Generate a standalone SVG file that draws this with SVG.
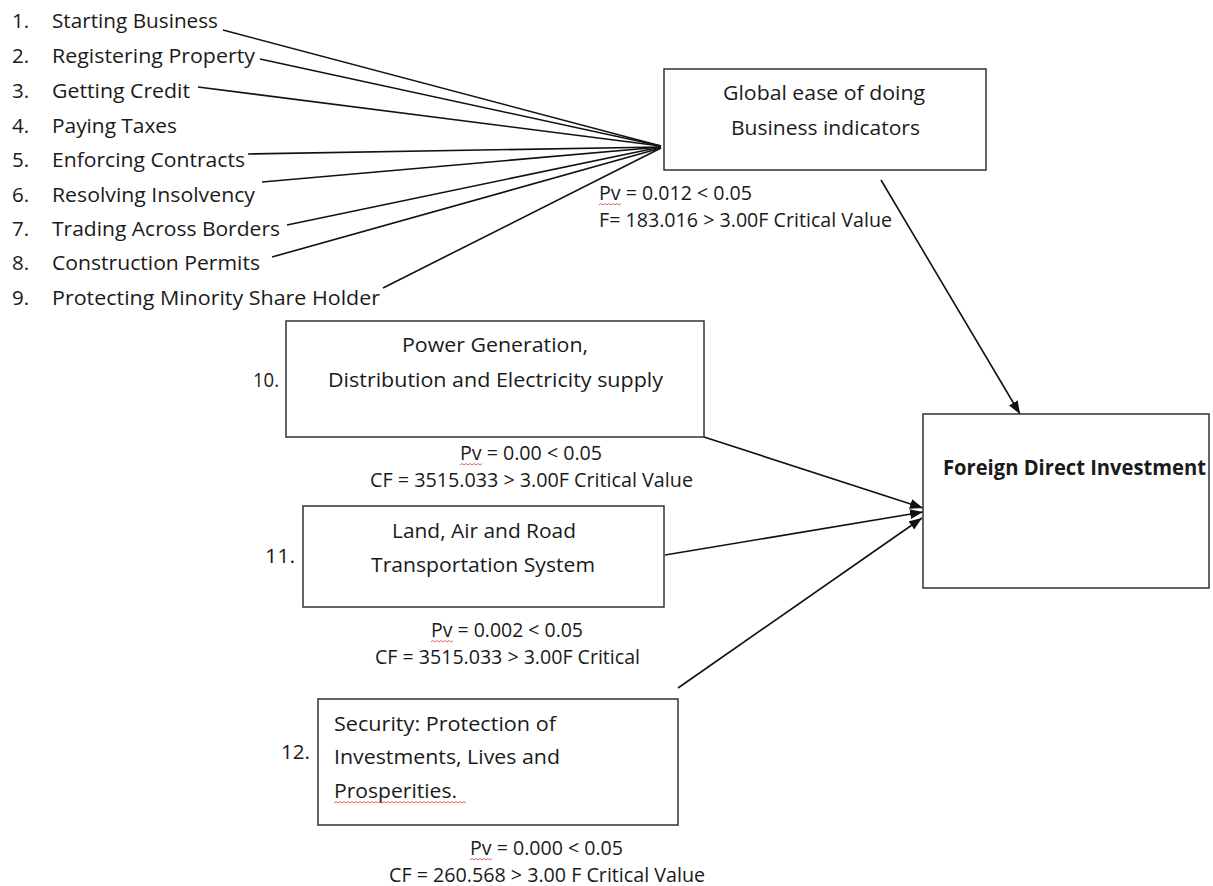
<svg xmlns="http://www.w3.org/2000/svg" width="1213" height="886" viewBox="0 0 1213 886">
<defs>
<style>
text{font-family:"Open Sans","Liberation Sans",sans-serif;font-size:20.5px;fill:#1a1a1a}
.b{font-weight:bold}
.box{fill:#fff;stroke:#333;stroke-width:1.5}
.ln{stroke:#111;stroke-width:1.6;fill:none}
.sq{stroke:#e04040;stroke-width:0.8;fill:none}
</style>
<marker id="ah" markerUnits="userSpaceOnUse" markerWidth="15" markerHeight="11" refX="13" refY="5" orient="auto">
<path d="M0,0 L13,5 L0,10 z" fill="#111"/>
</marker>
</defs>
<rect width="1213" height="886" fill="#fff"/>

<g id="connectors">
<line class="ln" x1="223" y1="30" x2="661" y2="146"/>
<line class="ln" x1="260" y1="59" x2="661" y2="146"/>
<line class="ln" x1="198" y1="87" x2="661" y2="146"/>
<line class="ln" x1="248" y1="154" x2="661" y2="147"/>
<line class="ln" x1="262" y1="182" x2="661" y2="147"/>
<line class="ln" x1="287" y1="225" x2="661" y2="147"/>
<line class="ln" x1="272" y1="257" x2="661" y2="148"/>
<line class="ln" x1="383" y1="288" x2="661" y2="148"/>
<line class="ln" x1="881" y1="180" x2="1020" y2="414" marker-end="url(#ah)"/>
<line class="ln" x1="704" y1="437" x2="923" y2="508" marker-end="url(#ah)"/>
<line class="ln" x1="665" y1="555" x2="923" y2="512" marker-end="url(#ah)"/>
<line class="ln" x1="678" y1="688" x2="922" y2="518" marker-end="url(#ah)"/>
</g>

<g id="items">
<g id="item-1"><text x="12" y="28">1.</text><text x="52" y="28" textLength="166" lengthAdjust="spacingAndGlyphs">Starting Business</text></g>
<g id="item-2"><text x="12" y="63">2.</text><text x="52" y="63" textLength="203" lengthAdjust="spacingAndGlyphs">Registering Property</text></g>
<g id="item-3"><text x="12" y="98">3.</text><text x="52" y="98" textLength="138" lengthAdjust="spacingAndGlyphs">Getting Credit</text></g>
<g id="item-4"><text x="12" y="133">4.</text><text x="52" y="133" textLength="125" lengthAdjust="spacingAndGlyphs">Paying Taxes</text></g>
<g id="item-5"><text x="12" y="167">5.</text><text x="52" y="167" textLength="193" lengthAdjust="spacingAndGlyphs">Enforcing Contracts</text></g>
<g id="item-6"><text x="12" y="202">6.</text><text x="52" y="202" textLength="203" lengthAdjust="spacingAndGlyphs">Resolving Insolvency</text></g>
<g id="item-7"><text x="12" y="236">7.</text><text x="52" y="236" textLength="228" lengthAdjust="spacingAndGlyphs">Trading Across Borders</text></g>
<g id="item-8"><text x="12" y="270">8.</text><text x="52" y="270" textLength="208" lengthAdjust="spacingAndGlyphs">Construction Permits</text></g>
<g id="item-9"><text x="12" y="305">9.</text><text x="52" y="305" textLength="328" lengthAdjust="spacingAndGlyphs">Protecting Minority Share Holder</text></g>
</g>

<g id="node-global">
<rect class="box" x="664" y="69" width="322" height="101"/>
<text x="723" y="100" textLength="202" lengthAdjust="spacingAndGlyphs">Global ease of doing</text>
<text x="731" y="135" textLength="189" lengthAdjust="spacingAndGlyphs">Business indicators</text>
<text x="599" y="200" textLength="153" lengthAdjust="spacingAndGlyphs">Pv = 0.012 &lt; 0.05</text>
<text x="599" y="227" textLength="293" lengthAdjust="spacingAndGlyphs">F= 183.016 &gt; 3.00F Critical Value</text>
<path class="sq" d="M599,205 l2-1.5l2 1.5l2-1.5l2 1.5l2-1.5l2 1.5l2-1.5l2 1.5l2-1.5l2 1.5l2-1.5"/>
</g>

<g id="node-power">
<text x="253" y="387" textLength="26" lengthAdjust="spacingAndGlyphs">10.</text>
<rect class="box" x="286" y="321" width="418" height="116"/>
<text x="402" y="352" textLength="186" lengthAdjust="spacingAndGlyphs">Power Generation,</text>
<text x="328" y="387" textLength="335" lengthAdjust="spacingAndGlyphs">Distribution and Electricity supply</text>
<text x="460" y="460" textLength="142" lengthAdjust="spacingAndGlyphs">Pv = 0.00 &lt; 0.05</text>
<text x="370" y="487" textLength="323" lengthAdjust="spacingAndGlyphs">CF = 3515.033 &gt; 3.00F Critical Value</text>
<path class="sq" d="M460,465 l2-1.5l2 1.5l2-1.5l2 1.5l2-1.5l2 1.5l2-1.5l2 1.5l2-1.5l2 1.5l2-1.5"/>
</g>

<g id="node-transport">
<text x="265" y="563" textLength="30" lengthAdjust="spacingAndGlyphs">11.</text>
<rect class="box" x="303" y="506" width="361" height="101"/>
<text x="392" y="538" textLength="184" lengthAdjust="spacingAndGlyphs">Land, Air and Road</text>
<text x="371" y="572" textLength="224" lengthAdjust="spacingAndGlyphs">Transportation System</text>
<text x="431" y="637" textLength="152" lengthAdjust="spacingAndGlyphs">Pv = 0.002 &lt; 0.05</text>
<text x="375" y="664" textLength="265" lengthAdjust="spacingAndGlyphs">CF = 3515.033 &gt; 3.00F Critical</text>
<path class="sq" d="M431,642 l2-1.5l2 1.5l2-1.5l2 1.5l2-1.5l2 1.5l2-1.5l2 1.5l2-1.5l2 1.5l2-1.5"/>
</g>

<g id="node-security">
<text x="281" y="759" textLength="29" lengthAdjust="spacingAndGlyphs">12.</text>
<rect class="box" x="318" y="699" width="360" height="126"/>
<text x="334" y="731" textLength="222" lengthAdjust="spacingAndGlyphs">Security: Protection of</text>
<text x="334" y="764" textLength="226" lengthAdjust="spacingAndGlyphs">Investments, Lives and</text>
<text x="334" y="798" textLength="123" lengthAdjust="spacingAndGlyphs">Prosperities.</text>
<path class="sq" d="M334,803 l2-1.5l2 1.5l2-1.5l2 1.5l2-1.5l2 1.5l2-1.5l2 1.5l2-1.5l2 1.5l2-1.5l2 1.5l2-1.5l2 1.5l2-1.5l2 1.5l2-1.5l2 1.5l2-1.5l2 1.5l2-1.5l2 1.5l2-1.5l2 1.5l2-1.5l2 1.5l2-1.5l2 1.5l2-1.5l2 1.5l2-1.5l2 1.5l2-1.5l2 1.5l2-1.5l2 1.5l2-1.5l2 1.5l2-1.5l2 1.5l2-1.5l2 1.5l2-1.5l2 1.5l2-1.5l2 1.5l2-1.5l2 1.5l2-1.5l2 1.5l2-1.5l2 1.5l2-1.5l2 1.5l2-1.5l2 1.5l2-1.5l2 1.5l2-1.5l2 1.5l2-1.5l2 1.5l2-1.5l2 1.5l2-1.5l2 1.5"/>
<text x="470" y="855" textLength="153" lengthAdjust="spacingAndGlyphs">Pv = 0.000 &lt; 0.05</text>
<text x="389" y="882" textLength="316" lengthAdjust="spacingAndGlyphs">CF = 260.568 &gt; 3.00 F Critical Value</text>
<path class="sq" d="M470,860 l2-1.5l2 1.5l2-1.5l2 1.5l2-1.5l2 1.5l2-1.5l2 1.5l2-1.5l2 1.5l2-1.5"/>
</g>

<g id="node-fdi">
<rect class="box" x="923" y="414" width="286" height="174"/>
<text class="b" x="943" y="475" textLength="263" lengthAdjust="spacingAndGlyphs">Foreign Direct Investment</text>
</g>
</svg>
